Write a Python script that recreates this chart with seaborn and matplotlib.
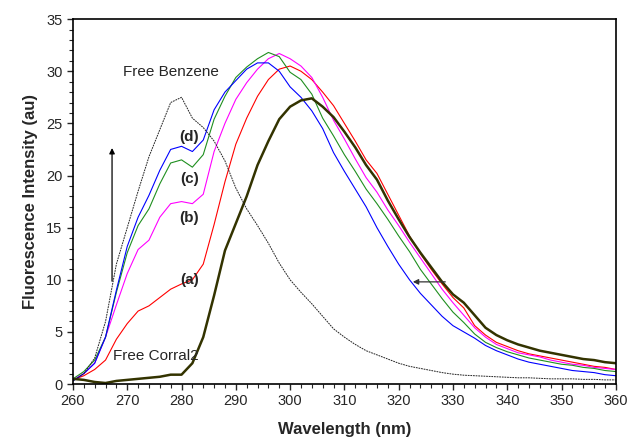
import numpy as np
import pandas as pd
import matplotlib
matplotlib.use("Agg")
import matplotlib.pyplot as plt
from matplotlib.ticker import MultipleLocator
import seaborn as sns

# wavelength grid (nm), read every 2 nm from the picture
wavelength = list(range(260, 362, 2))

free_benzene = [0.3, 1.0, 2.5, 6.0, 11.5, 15.0, 18.5, 21.8, 24.4, 27.0,
                27.5, 25.5, 24.6, 23.3, 21.4, 18.8, 16.8, 15.2, 13.5, 11.6,
                10.0, 8.8, 7.7, 6.5, 5.3, 4.5, 3.8, 3.2, 2.8, 2.4,
                2.0, 1.7, 1.5, 1.3, 1.1, 0.95, 0.85, 0.8, 0.75, 0.7,
                0.65, 0.6, 0.6, 0.55, 0.5, 0.5, 0.5, 0.45, 0.45, 0.4, 0.4]

free_corral = [0.5, 0.4, 0.2, 0.1, 0.3, 0.4, 0.5, 0.6, 0.7, 0.9,
               0.9, 2.0, 4.5, 8.5, 12.8, 15.4, 18.0, 21.0, 23.3, 25.4,
               26.6, 27.2, 27.4, 26.6, 25.6, 24.2, 22.7, 21.0, 19.6, 17.6,
               15.8, 14.1, 12.6, 11.2, 9.8, 8.6, 7.8, 6.6, 5.4, 4.7,
               4.2, 3.8, 3.5, 3.2, 3.0, 2.8, 2.6, 2.4, 2.3, 2.1, 2.0]

curve_a = [0.4, 0.8, 1.4, 2.3, 4.3, 5.8, 7.0, 7.5, 8.3, 9.1,
           9.6, 10.0, 11.5, 15.3, 19.4, 23.0, 25.5, 27.6, 29.2, 30.2,
           30.5, 30.0, 29.2, 28.0, 26.7, 25.0, 23.3, 21.5, 20.2, 18.2,
           16.2, 14.2, 12.5, 11.0, 9.6, 8.3, 7.3, 5.6, 4.7, 4.0,
           3.6, 3.2, 2.9, 2.7, 2.5, 2.3, 2.1, 1.9, 1.7, 1.6, 1.4]

curve_b = [0.4, 1.0, 2.0, 4.5, 7.6, 10.6, 12.9, 13.8, 16.0, 17.3,
           17.5, 17.3, 18.2, 22.3, 25.0, 27.3, 28.9, 30.2, 31.2, 31.7,
           31.2, 30.5, 29.4, 27.5, 25.3, 23.5, 21.6, 19.8, 18.4, 16.7,
           15.2, 13.6, 12.1, 10.6, 9.1, 7.8, 6.6, 5.4, 4.5, 3.8,
           3.4, 3.0, 2.8, 2.6, 2.3, 2.1, 1.9, 1.8, 1.6, 1.5, 1.4]

curve_c = [0.5, 1.2, 2.3, 4.5, 8.8, 12.6, 15.2, 16.8, 19.2, 21.2,
           21.5, 20.8, 22.0, 25.4, 27.6, 29.4, 30.4, 31.2, 31.8, 31.4,
           29.9, 29.2, 27.8, 25.5, 23.8, 22.0, 20.4, 18.7, 17.3, 15.8,
           14.2, 12.7, 11.0, 9.6, 8.2, 6.9, 5.9, 4.8, 4.0, 3.5,
           3.1, 2.8, 2.5, 2.3, 2.1, 1.9, 1.8, 1.6, 1.5, 1.3, 1.2]

curve_d = [0.3, 1.0, 2.0, 4.5, 9.0, 13.2, 16.0, 18.1, 20.5, 22.5,
           22.8, 22.3, 23.4, 26.3, 28.0, 29.1, 30.2, 30.8, 30.8, 30.0,
           28.5, 27.5, 26.2, 24.5, 22.2, 20.4, 18.7, 17.0, 15.0, 13.2,
           11.5, 10.0, 8.7, 7.6, 6.5, 5.6, 5.0, 4.4, 3.7, 3.2,
           2.8, 2.4, 2.1, 1.9, 1.7, 1.5, 1.3, 1.2, 1.1, 0.9, 0.8]

sns.set_style("ticks")
plt.rcParams['font.family'] = ['Liberation Sans', 'DejaVu Sans']

fig = plt.figure(figsize=(6.29, 4.44), dpi=100)
ax = fig.add_axes([0.116, 0.135, 0.863, 0.822])

series = [
    (curve_a, "#ff0000", 0.8),
    (curve_b, "#ff00ff", 0.8),
    (curve_c, "#1f8f1f", 0.8),
    (curve_d, "#0000ff", 0.8),
    (free_corral, "#333300", 1.8),
]
for vals, col, lw in series:
    df = pd.DataFrame({"wl": wavelength, "fl": vals})
    sns.lineplot(data=df, x="wl", y="fl", color=col, lw=lw, ax=ax)

df = pd.DataFrame({"wl": wavelength, "fl": free_benzene})
sns.lineplot(data=df, x="wl", y="fl", color="#222222", lw=0.7, ax=ax)
ax.lines[-1].set_dashes([1.8, 0.9])

ax.set_xlim(260, 360)
ax.set_ylim(0, 35)
ax.xaxis.set_major_locator(MultipleLocator(10))
ax.xaxis.set_minor_locator(MultipleLocator(2))
ax.yaxis.set_major_locator(MultipleLocator(5))
ax.yaxis.set_minor_locator(MultipleLocator(1))
ax.tick_params(which='major', direction='out', length=4, width=1,
               labelsize=10.5, top=False, right=False)
ax.tick_params(which='minor', direction='out', length=3, width=0.8,
               top=False, right=False)
for s in ax.spines.values():
    s.set_linewidth(1.2)
    s.set_color("black")

ax.set_xlabel("Wavelength (nm)", fontsize=12, fontweight='bold', labelpad=10)
ax.set_ylabel("Fluorescence Intensity (au)", fontsize=12, fontweight='bold', labelpad=6)

ax.text(269.3, 29.9, "Free Benzene", fontsize=11, va='center', ha='left')
ax.text(267.4, 2.7, "Free Corral2", fontsize=11, va='center', ha='left')
for lab, yv in [("(d)", 23.7), ("(c)", 19.7), ("(b)", 15.9), ("(a)", 10.0)]:
    ax.text(281.4, yv, lab, fontsize=11, fontweight='bold', ha='center', va='center')

ax.annotate("", xy=(267.2, 22.9), xytext=(267.2, 9.6),
            arrowprops=dict(arrowstyle='-|>', mutation_scale=8, lw=0.9, color='black'))
ax.annotate("", xy=(322.1, 9.8), xytext=(329.1, 9.8),
            arrowprops=dict(arrowstyle='-|>', mutation_scale=8, lw=0.9, color='#333333'))

fig.savefig("out.png", dpi=100)
